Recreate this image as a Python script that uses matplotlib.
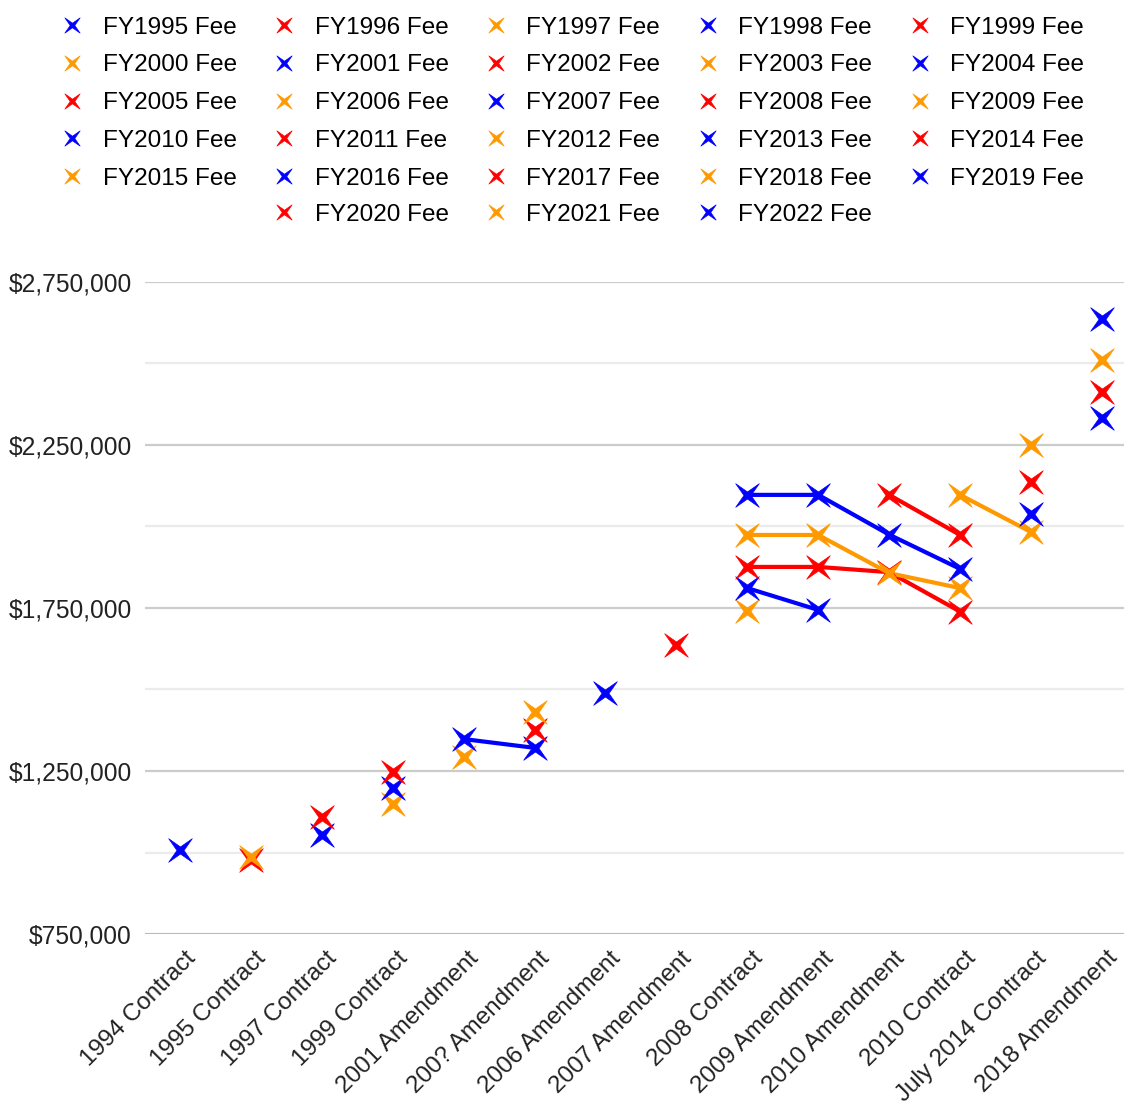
import numpy as np
import matplotlib
matplotlib.use("Agg")
import matplotlib.pyplot as plt
import matplotlib.transforms as mtransforms
from matplotlib.path import Path
from matplotlib.lines import Line2D
from matplotlib.ticker import FuncFormatter, FixedLocator

plt.rcParams["font.family"] = ["Liberation Sans", "DejaVu Sans"]

# Data
categories = ["1994 Contract", "1995 Contract", "1997 Contract", "1999 Contract",
              "2001 Amendment", "200? Amendment", "2006 Amendment", "2007 Amendment",
              "2008 Contract", "2009 Amendment", "2010 Amendment", "2010 Contract",
              "July 2014 Contract", "2018 Amendment"]

fee_years = list(range(1995, 2023))

# index of the first category each fee year shows up in
first_category = [0, 1, 1, 2, 2, 3, 3, 3, 4, 4, 5, 5, 6, 7,
                  8, 8, 8, 8, 8, 10, 11, 12, 12, 12, 13, 13, 13, 13]

# fee values, one list per fee year, for consecutive categories
fee_values = [
    [1007000],                                # FY1995
    [978000],                                 # FY1996
    [985000],                                 # FY1997
    [1054000],                                # FY1998
    [1109000],                                # FY1999
    [1149000],                                # FY2000
    [1198000],                                # FY2001
    [1247000],                                # FY2002
    [1293000],                                # FY2003
    [1348000, 1321000],                       # FY2004
    [1376000],                                # FY2005
    [1431000],                                # FY2006
    [1489000],                                # FY2007
    [1637000],                                # FY2008
    [1740000],                                # FY2009
    [1811000, 1744000],                       # FY2010
    [1876000, 1876000, 1860000, 1739000],     # FY2011
    [1974000, 1974000, 1857000, 1811000],     # FY2012
    [2097000, 2097000, 1975000, 1870000],     # FY2013
    [2097000, 1974000],                       # FY2014
    [2097000, 1983000],                       # FY2015
    [2038000],                                # FY2016
    [2136000],                                # FY2017
    [2250000],                                # FY2018
    [2333000],                                # FY2019
    [2413000],                                # FY2020
    [2511000],                                # FY2021
    [2637000],                                # FY2022
]

y_labelled = [750000, 1250000, 1750000, 2250000, 2750000]
y_minor = [1000000, 1500000, 2000000, 2500000]

palette = ["#0000ff", "#ff0000", "#ff9900"]

# 4 point star, points on the diagonals
r = 0.3
star = Path([(1, 1), (0, r), (-1, 1), (-r, 0), (-1, -1), (0, -r), (1, -1), (r, 0), (1, 1)],
            [Path.MOVETO] + [Path.LINETO] * 7 + [Path.CLOSEPOLY])

fig = plt.figure(figsize=(11.24, 11.07), dpi=100)
W, H = 1124, 1107
ax = fig.add_axes([144.5 / W, (H - 934) / H, (1124 - 144.5) / W, (934 - 282) / H])

handles = []
for i, year in enumerate(fee_years):
    vals = fee_values[i]
    xs = np.arange(first_category[i], first_category[i] + len(vals))
    color = palette[i % 3]
    ax.plot(xs, vals, color=color, lw=3.0, solid_capstyle="round", zorder=3 + i * 0.01)
    ax.plot(xs, vals, ls="none", marker=star, ms=17, mfc=color, mec=color, mew=0.5,
            zorder=4 + i * 0.01)
    handles.append(Line2D([], [], ls="none", marker=star, ms=11, mfc=color, mec=color,
                          mew=0.5, label=f"FY{year} Fee"))

ax.set_xlim(-0.5, (1124 - 180) / 70.92)
ax.set_ylim(750000, 2750000)

ax.yaxis.set_major_locator(FixedLocator(y_labelled))
ax.yaxis.set_minor_locator(FixedLocator(y_minor))
ax.yaxis.set_major_formatter(FuncFormatter(lambda v, p: f"${v:,.0f}"))
ax.grid(axis="y", which="major", color="#cccccc", lw=1.6)
ax.grid(axis="y", which="minor", color="#ebebeb", lw=1.6)
ax.axhline(750000, color="#b8b8b8", lw=2, zorder=2)
for s in ax.spines.values():
    s.set_visible(False)
ax.set_axisbelow(True)
ax.tick_params(axis="y", which="both", length=0, pad=9, labelsize=17.7, labelcolor="#222222")

ax.set_xticks(range(len(categories)))
ax.set_xticklabels(categories, rotation=45, ha="right", va="center",
                   rotation_mode="anchor", fontsize=17.5, color="#222222")
ax.tick_params(axis="x", length=0, pad=15)
offset = mtransforms.ScaledTranslation(12 / 100, 0, fig.dpi_scale_trans)
for lbl in ax.get_xticklabels():
    lbl.set_transform(lbl.get_transform() + offset)

# legend: 5 full rows in row order, then last 3 centred
first = handles[:25]
order = [first[row * 5 + col] for col in range(5) for row in range(5)]
leg_kw = dict(frameon=False, fontsize=17.5, handlelength=1.0, handletextpad=0.75,
              columnspacing=1.45, labelspacing=0.65, borderpad=0, borderaxespad=0)
leg1 = fig.legend(handles=order, ncol=5, loc="upper center",
                  bbox_to_anchor=(0.5 + 10 / W, 1 - 16.5 / H), **leg_kw)
leg2 = fig.legend(handles=handles[25:], ncol=3, loc="upper center",
                  bbox_to_anchor=(0.5 + 10 / W, 1 - 203.5 / H), **leg_kw)

fig.savefig("out.png", dpi=100)
